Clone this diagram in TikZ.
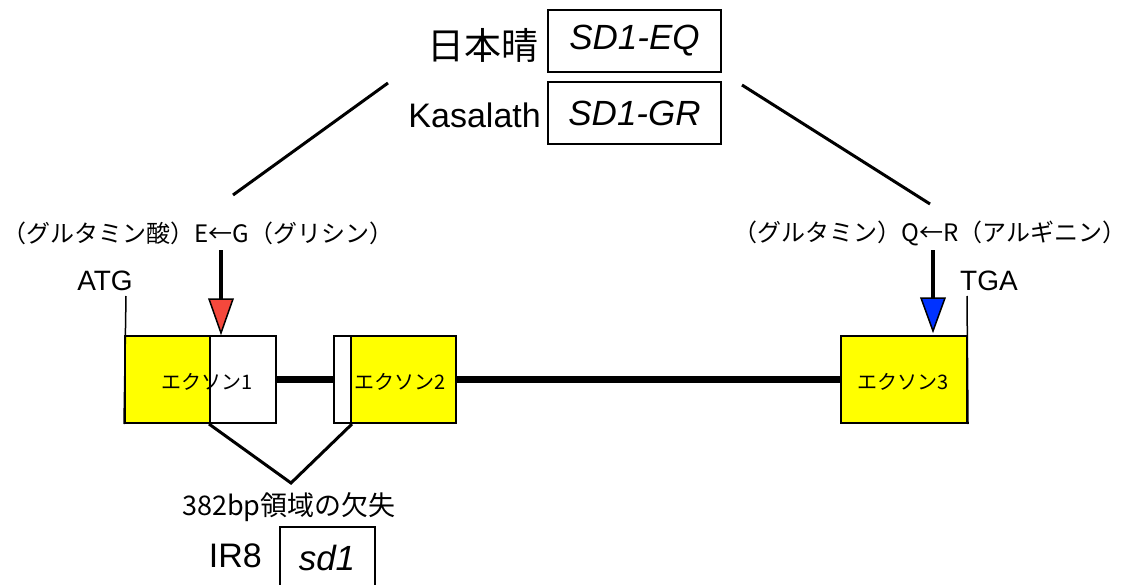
\documentclass[tikz,border=0pt]{standalone}
\usepackage{fontspec}
\setmainfont{Liberation Sans}
\newfontfamily\jp{Noto Sans CJK JP}
\definecolor{exony}{RGB}{255,255,0}
\definecolor{mutred}{RGB}{245,72,60}
\definecolor{mutblue}{RGB}{0,50,255}
\begin{document}
\begin{tikzpicture}[x=1pt,y=-1pt,
  genebox/.style={draw,line width=2pt,minimum width=173pt,minimum height=62pt,inner sep=0pt,font=\fontsize{35}{40}\selectfont\itshape},
  big/.style={inner sep=0pt,font=\fontsize{34}{40}\selectfont},
  bigjp/.style={inner sep=0pt,font=\fontsize{37}{40}\selectfont\jp},
  mutlab/.style={inner sep=0pt,font=\fontsize{24}{28}\selectfont\jp},
  codon/.style={inner sep=0pt,font=\fontsize{28}{32}\selectfont},
  exonbox/.style={draw,line width=2pt,fill=exony,minimum height=87pt,inner sep=0pt},
  whitebox/.style={draw,line width=2pt,fill=white,minimum height=87pt,inner sep=0pt},
  exonlab/.style={inner sep=0pt,font=\fontsize{20}{22}\selectfont\jp},
  intron/.style={line width=7pt},
  diag/.style={line width=3pt},
  stem/.style={line width=4pt},
  tick/.style={line width=1.5pt},
]
\useasboundingbox (0,0) rectangle (1131,585);

% top gene boxes
\node[genebox] (eq) at (634.5,41) {SD1-EQ};
\node[genebox] (gr) at (634.5,113) {SD1-GR};
\node[bigjp,anchor=east] (nip) at (539,45) {日本晴};
\node[big,anchor=east] (kas) at (541,115) {Kasalath};

% diagonal lines
\coordinate (dl1) at (388,83);
\coordinate (dl2) at (233,195);
\coordinate (dr1) at (742,85);
\coordinate (dr2) at (930,204);
\draw[diag] (dl1) -- (dl2);
\draw[diag] (dr1) -- (dr2);

% mutation labels
\node[mutlab] (mutL) at (198,233) {（グルタミン酸）E←G（グリシン）};
\node[mutlab] (mutR) at (930,233) {（グルタミン）Q←R（アルギニン）};

% codon labels
\node[codon] (atg) at (105,281) {ATG};
\node[codon] (tga) at (989,281) {TGA};

% exons
\node[exonbox,minimum width=85pt] (ex1y) at (167.5,379.5) {};
\node[whitebox,minimum width=66pt] (ex1w) at (243,379.5) {};
\node[whitebox,minimum width=17pt] (ex2w) at (342.5,379.5) {};
\node[exonbox,minimum width=105pt] (ex2y) at (403.5,379.5) {};
\node[exonbox,minimum width=126pt] (ex3) at (904,379.5) {};
\node[exonlab] (e1t) at (207,382) {エクソン1};
\node[exonlab] (e2t) at (400,382) {エクソン2};
\node[exonlab] (e3t) at (903,382) {エクソン3};

% introns
\draw[intron] (ex1w.east) -- (ex2w.west);
\draw[intron] (ex2y.east) -- (ex3.west);

% ATG / TGA ticks
\coordinate (atgtop) at (126,296);
\coordinate (tgatop) at (967,296);
\draw[tick] (atgtop) -- (ex1y.south west);
\draw[tick] (tgatop) -- (ex3.south east);

% mutation arrows
\coordinate (rs) at (221,250);
\coordinate (rt) at (221,300);
\draw[stem] (rs) -- (rt);
\draw[line width=1.5pt,fill=mutred] (209,299) -- (233,299) -- (221,333) -- cycle;
\coordinate (bs) at (933,250);
\coordinate (bt) at (933,300);
\draw[stem] (bs) -- (bt);
\draw[line width=1.5pt,fill=mutblue] (921,298) -- (945,298) -- (933,331) -- cycle;

% deletion
\coordinate (apex) at (291,483);
\draw[diag] (ex1w.south west) -- (apex) -- (ex2w.south east);
\node[inner sep=0pt,font=\fontsize{27}{30}\selectfont\jp] (del) at (289,507) {382bp領域の欠失};

% IR8
\node[big,anchor=east] (ir8) at (262,556) {IR8};
\draw[line width=2pt] (280,600) |- (375,527) -- (375,600);
\node[inner sep=0pt,font=\fontsize{35}{40}\selectfont\itshape] (sd1) at (327,558) {sd1};
\end{tikzpicture}
\end{document}
